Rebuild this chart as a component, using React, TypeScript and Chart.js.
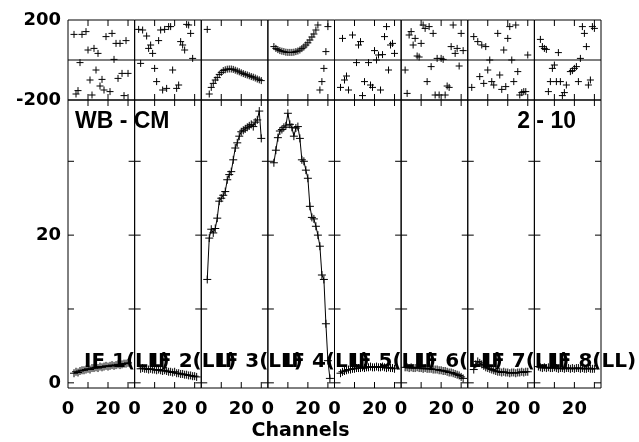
import React, { useEffect, useRef } from 'react';
import { Chart, registerables } from 'chart.js';

Chart.register(...registerables);

// ---------------- data ----------------
const channels = [2, 3, 4, 5, 6, 7, 8, 9, 10, 11, 12, 13, 14, 15, 16, 17, 18, 19, 20, 21, 22, 23, 24, 25, 26, 27, 28, 29, 30, 31];

const ifLabels = ['IF 1(LL)', 'IF 2(LL)', 'IF 3(LL)', 'IF 4(LL)', 'IF 5(LL)', 'IF 6(LL)', 'IF 7(LL)', 'IF 8(LL)'];

// phase (degrees) per channel
const phase1 = [null, 128, -170, -153, -13, 128, null, 142, 50, -100, -175, 58, -50, 33, -130, -97, -150, 117, null, -158, 133, 3, 83, -92, 83, -67, -178, 97, -67, null];
const phase2 = [153, -17, 150, null, 120, 58, 75, 33, -42, -108, 97, 150, -150, 153, -142, 167, 167, -50, null, -142, -125, 92, 75, 50, 178, 175, 133, 8, null, null];
const phase3 = [null, 153, -170, -137, -117, -100, -88, -72, -62, -53, -49, -46, -45, -45, -47, -51, -55, -59, -64, -68, -72, -75, -79, -83, -86, -90, -95, -99, -103, null];
const phase4 = [null, 67, 58, 52, 47, 44, 42, 39, 38, 38, 38, 39, 42, 45, 50, 57, 65, 75, 86, 100, 115, 130, 150, 175, -150, -108, -42, 42, 167, null];
const phase5 = [null, -137, 108, -100, -80, -150, null, 125, null, -13, 75, 92, -178, -108, null, -13, -125, -137, 47, 0, 25, -150, 27, 117, 167, -50, 75, 83, 33, null];
const phase6 = [-50, -167, 125, 142, 75, 108, 20, 15, 83, 175, 158, -108, 167, -33, 133, -175, 8, -175, 8, 3, -175, -130, -137, 67, 175, 33, 58, -30, 133, 47];
const phase7 = [-137, 117, null, 92, -83, 75, -117, 67, -50, 0, -108, -125, null, 133, -75, -147, 50, -133, 108, 167, 0, -108, 175, -58, -175, -163, -158, -158, 25, null];
const phase8 = [null, 103, 67, 58, 53, -158, -108, -42, -25, -108, 37, -108, -178, -163, -125, null, -58, -53, -42, -33, -108, 8, 167, 133, 67, -125, -100, 167, 158, null];

// amplitude per channel
const amp1 = [null, 1.3, 1.5, 1.4, 1.6, 1.7, 1.7, 1.8, 1.9, 1.8, 2.0, 2.0, 2.1, 2.0, 2.2, 2.1, 2.2, 2.3, 2.2, 2.3, 2.4, 2.3, 2.4, 2.5, 2.4, 2.5, 2.6, 2.6, 2.7, null];
const amp2 = [null, 1.9, 2.0, 1.9, 1.9, 1.8, 1.9, 1.8, 1.8, 1.7, 1.8, 1.7, 1.6, 1.7, 1.6, 1.5, 1.5, 1.4, 1.5, 1.3, 1.3, 1.2, 1.2, 1.1, 1.1, 1.0, 1.0, 0.9, 0.9, 0.8];
const amp3 = [null, 14.0, 19.6, 20.8, 20.3, 20.9, 22.3, 24.6, 25.0, 25.4, 25.9, 27.5, 28.2, 28.6, 30.2, 31.8, 32.5, 33.4, 34.0, 34.2, 34.4, 34.6, 34.8, 35.0, 34.7, 35.3, 35.6, 36.8, 33.1, null];
const amp4 = [null, 29.8, 31.5, 33.2, 34.1, 34.3, 34.6, 34.8, 36.5, 35.0, 34.6, 33.4, 34.5, 34.7, 33.1, 30.2, 30.0, 28.8, 27.7, 23.9, 22.4, 22.2, 21.2, 20.0, 18.5, 14.6, 14.0, 8.0, 3.0, 0.6];
const amp5 = [null, 1.3, 1.5, 1.6, 1.7, 1.8, 1.8, 1.9, 1.9, 2.0, 2.0, 2.0, 2.1, 2.0, 2.1, 2.1, 2.2, 2.1, 2.1, 2.2, 2.1, 2.1, 2.2, 2.1, 2.0, 2.1, 2.0, 2.0, 1.9, null];
const amp6 = [2.1, 2.1, 2.0, 2.1, 2.0, 2.0, 2.1, 2.0, 2.0, 1.9, 2.0, 1.9, 1.9, 1.9, 1.8, 1.8, 1.8, 1.7, 1.7, 1.6, 1.6, 1.5, 1.4, 1.4, 1.3, 1.2, 1.1, 1.0, 0.8, 0.6];
const amp7 = [null, 1.8, 2.5, 2.9, 2.7, 2.5, 2.3, 2.1, 2.0, 1.9, 1.8, 1.7, 1.6, 1.5, 1.5, 1.4, 1.5, 1.4, 1.4, 1.3, 1.4, 1.4, 1.3, 1.4, 1.4, 1.5, 1.4, 1.5, 1.5, null];
const amp8 = [2.2, 2.1, 2.0, 2.1, 2.0, 2.1, 2.0, 2.0, 2.1, 2.0, 1.9, 2.0, 2.0, 1.9, 2.0, 2.0, 1.9, 2.0, 1.9, 2.0, 2.0, 1.9, 2.0, 1.9, 1.9, 2.0, 1.9, 1.9, 1.9, null];

// axis ticks / labels
const xTickValues = [10, 20, 30];
const xLabelValues = [0, 20];
const ampTickValues = [0, 10, 20, 30];
const ampLabelValues = [0, 20];
const phaseLabelValues = [-200, 200];
const leftNote = 'WB - CM';
const rightNote = '2 - 10';
const xTitle = 'Channels';

const phases = [phase1, phase2, phase3, phase4, phase5, phase6, phase7, phase8];
const amps = [amp1, amp2, amp3, amp4, amp5, amp6, amp7, amp8];

const TICK = 6;
const tickFont = { family: "'DejaVu Sans', sans-serif", weight: 'bold' as const, size: 18 };

const panelPlugin = {
  id: 'panels',
  beforeDatasetsDraw(chart: any) {
    const { ctx, scales } = chart;
    const yP = scales.yP;
    const yA = scales.yA;
    ctx.save();
    ctx.strokeStyle = '#000';
    ctx.lineWidth = 1;
    ctx.beginPath();
    for (let k = 1; k <= 8; k++) {
      const xs = scales['x' + k];
      const cells: [any, number[]][] = [[yP, []], [yA, ampTickValues]];
      for (const [ys, yTicks] of cells) {
        ctx.rect(xs.left, ys.top, xs.right - xs.left, ys.bottom - ys.top);
        for (const v of xTickValues) {
          const px = xs.getPixelForValue(v);
          ctx.moveTo(px, ys.bottom);
          ctx.lineTo(px, ys.bottom - TICK);
          ctx.moveTo(px, ys.top);
          ctx.lineTo(px, ys.top + TICK);
        }
        for (const v of yTicks) {
          const py = ys.getPixelForValue(v);
          ctx.moveTo(xs.left, py);
          ctx.lineTo(xs.left + TICK, py);
          ctx.moveTo(xs.right, py);
          ctx.lineTo(xs.right - TICK, py);
        }
      }
    }
    const y0 = yP.getPixelForValue(0);
    ctx.moveTo(chart.chartArea.left, y0);
    ctx.lineTo(chart.chartArea.right, y0);
    ctx.stroke();
    ctx.restore();
  },
  afterDatasetsDraw(chart: any) {
    const { ctx, scales } = chart;
    const yA = scales.yA;
    ctx.save();
    ctx.fillStyle = '#000';
    ctx.textBaseline = 'alphabetic';
    ctx.font = "bold 20px 'DejaVu Sans', sans-serif";
    ctx.textAlign = 'left';
    for (let k = 1; k <= 8; k++) {
      const xs = scales['x' + k];
      ctx.fillText(ifLabels[k - 1], xs.left + 16, yA.bottom - 21);
    }
    ctx.font = "bold 23px 'Liberation Sans', Arial, sans-serif";
    ctx.textAlign = 'left';
    ctx.fillText(leftNote, scales.x1.left + 7, yA.top + 28);
    ctx.textAlign = 'right';
    ctx.fillText(rightNote, scales.x8.right - 25, yA.top + 28);
    ctx.restore();
  },
};

export default function App() {
  const ref = useRef<HTMLCanvasElement | null>(null);

  useEffect(() => {
    if (!ref.current) return;
    const datasets: any[] = [];
    const scales: any = {};
    for (let k = 0; k < 8; k++) {
      const xid = 'x' + (k + 1);
      datasets.push({
        data: channels.map((c, i) => ({ x: c, y: phases[k][i] })),
        xAxisID: xid,
        yAxisID: 'yP',
        showLine: false,
        pointStyle: 'cross',
        pointRadius: 3.5,
        pointBorderColor: '#000',
        pointBackgroundColor: '#000',
        pointBorderWidth: 1,
        borderColor: '#000',
      });
      datasets.push({
        data: channels.map((c, i) => ({ x: c, y: amps[k][i] })),
        xAxisID: xid,
        yAxisID: 'yA',
        showLine: true,
        spanGaps: true,
        borderColor: '#000',
        borderWidth: 1,
        tension: 0,
        pointStyle: 'cross',
        pointRadius: 4,
        pointBorderColor: '#000',
        pointBackgroundColor: '#000',
        pointBorderWidth: 1,
      });
      scales[xid] = {
        type: 'linear',
        position: 'bottom',
        stack: 'chan',
        stackWeight: 1,
        min: 0,
        max: 33.3,
        grid: { display: false, drawTicks: false },
        border: { display: false },
        ticks: {
          stepSize: 10,
          autoSkip: false,
          maxRotation: 0,
          minRotation: 0,
          includeBounds: false,
          padding: 11,
          color: '#000',
          font: tickFont,
          callback: (v: any) => (xLabelValues.includes(Number(v)) ? String(v) : ''),
        },
        afterFit: (s: any) => {
          s.height = 31.2;
        },
      };
    }
    scales.yP = {
      type: 'linear',
      position: 'left',
      stack: 'vals',
      stackWeight: 80,
      weight: 1,
      min: -200,
      max: 200,
      grid: { display: false, drawTicks: false },
      border: { display: false },
      ticks: {
        stepSize: 200,
        autoSkip: false,
        includeBounds: false,
        padding: 7,
        color: '#000',
        font: tickFont,
        callback: (v: any) => (phaseLabelValues.includes(Number(v)) ? String(v) : ''),
      },
      afterFit: (s: any) => {
        s.width = 68;
      },
    };
    scales.yA = {
      type: 'linear',
      position: 'left',
      stack: 'vals',
      stackWeight: 288,
      weight: 0,
      min: -0.7,
      max: 38.3,
      grid: { display: false, drawTicks: false },
      border: { display: false },
      ticks: {
        stepSize: 10,
        autoSkip: false,
        includeBounds: false,
        padding: 7,
        color: '#000',
        font: tickFont,
        callback: (v: any) => (ampLabelValues.includes(Number(v)) ? String(v) : ''),
      },
      afterFit: (s: any) => {
        s.width = 68;
      },
    };

    const chart = new Chart(ref.current, {
      type: 'scatter',
      data: { datasets },
      options: {
        animation: false,
        responsive: false,
        devicePixelRatio: 1,
        events: [],
        layout: { padding: { left: 0, right: 38, top: 20, bottom: 0 } },
        plugins: {
          legend: { display: false },
          tooltip: { enabled: false },
          title: {
            display: true,
            text: xTitle,
            position: 'bottom',
            color: '#000',
            padding: { top: 0, bottom: 0 },
            font: { family: "'DejaVu Sans', sans-serif", weight: 'bold', size: 19 },
          },
        },
        scales,
      } as any,
      plugins: [panelPlugin],
    });
    return () => chart.destroy();
  }, []);

  return (
    <div style={{ position: 'absolute', left: 0, top: 0, width: 639, height: 442, background: '#fff' }}>
      <canvas ref={ref} width={639} height={442} style={{ width: 639, height: 442, display: 'block' }} />
    </div>
  );
}
